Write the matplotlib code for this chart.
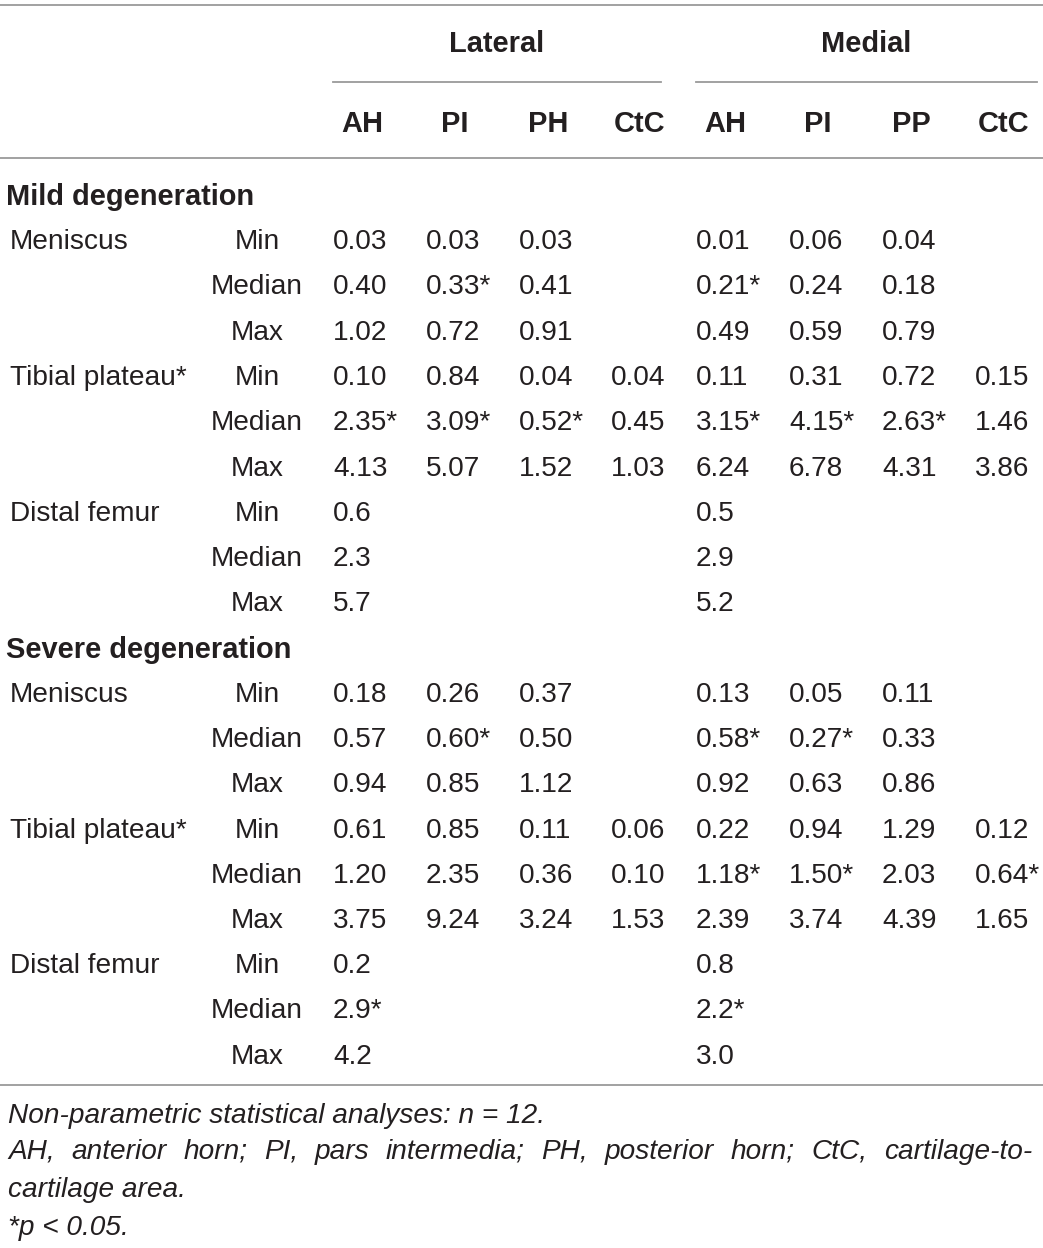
import matplotlib
matplotlib.use("Agg")
import matplotlib.pyplot as plt

plt.rcParams['font.family'] = ['Liberation Sans', 'DejaVu Sans']

# ---- data ----
sides = ["Lateral", "Medial"]
lateral_cols = ["AH", "PI", "PH", "CtC"]
medial_cols = ["AH", "PI", "PP", "CtC"]
sections = ["Mild degeneration", "Severe degeneration"]
tissues = ["Meniscus", "Tibial plateau*", "Distal femur"]
stats = ["Min", "Median", "Max"]

# each row: 4 lateral values + 4 medial values ("" = empty cell)
mild_meniscus = [
    ["0.03", "0.03", "0.03", "", "0.01", "0.06", "0.04", ""],
    ["0.40", "0.33*", "0.41", "", "0.21*", "0.24", "0.18", ""],
    ["1.02", "0.72", "0.91", "", "0.49", "0.59", "0.79", ""],
]
mild_tibial = [
    ["0.10", "0.84", "0.04", "0.04", "0.11", "0.31", "0.72", "0.15"],
    ["2.35*", "3.09*", "0.52*", "0.45", "3.15*", "4.15*", "2.63*", "1.46"],
    ["4.13", "5.07", "1.52", "1.03", "6.24", "6.78", "4.31", "3.86"],
]
mild_femur = [
    ["0.6", "", "", "", "0.5", "", "", ""],
    ["2.3", "", "", "", "2.9", "", "", ""],
    ["5.7", "", "", "", "5.2", "", "", ""],
]
severe_meniscus = [
    ["0.18", "0.26", "0.37", "", "0.13", "0.05", "0.11", ""],
    ["0.57", "0.60*", "0.50", "", "0.58*", "0.27*", "0.33", ""],
    ["0.94", "0.85", "1.12", "", "0.92", "0.63", "0.86", ""],
]
severe_tibial = [
    ["0.61", "0.85", "0.11", "0.06", "0.22", "0.94", "1.29", "0.12"],
    ["1.20", "2.35", "0.36", "0.10", "1.18*", "1.50*", "2.03", "0.64*"],
    ["3.75", "9.24", "3.24", "1.53", "2.39", "3.74", "4.39", "1.65"],
]
severe_femur = [
    ["0.2", "", "", "", "0.8", "", "", ""],
    ["2.9*", "", "", "", "2.2*", "", "", ""],
    ["4.2", "", "", "", "3.0", "", "", ""],
]
footnote1 = "Non-parametric statistical analyses: n = 12."
footnote2 = ("AH, anterior horn; PI, pars intermedia; PH, posterior horn; CtC, cartilage-to-",
             "cartilage area.")
footnote3 = "*p < 0.05."

section_data = [
    [mild_meniscus, mild_tibial, mild_femur],
    [severe_meniscus, severe_tibial, severe_femur],
]

# ---- layout ----
W, H = 1043, 1248
fig = plt.figure(figsize=(W / 100, H / 100), dpi=100)
ax = fig.add_axes([0, 0, 1, 1])
ax.set_xlim(0, W)
ax.set_ylim(H, 0)
ax.axis('off')

TXT = '#231f20'
LINE = '#9a9a9a'
FS = 20.2
FSB = 20.9

col_left = [333, 426, 519, 611, 696, 789, 882, 975]
col_w = 58
stat_x = 257
side_centers = [497, 866]
side_lines = [(333, 661), (696, 1037)]

# rules
ax.plot([0, W], [5, 5], color=LINE, lw=1.3)
ax.plot([0, W], [158, 158], color=LINE, lw=1.3)
ax.plot([0, W], [1085, 1085], color=LINE, lw=1.3)
for (a, b) in side_lines:
    ax.plot([a, b], [82, 82], color=LINE, lw=1.3)

for name, cx in zip(sides, side_centers):
    ax.text(cx, 44, name, ha='center', va='center', fontsize=FSB, fontweight='bold', color=TXT)

for i, c in enumerate(lateral_cols + medial_cols):
    ax.text(col_left[i] + col_w / 2, 124, c, ha='center', va='center',
            fontsize=FSB, fontweight='bold', color=TXT)

y = 197.0
step = 45.25
for s, sec in enumerate(sections):
    ax.text(6, y, sec, ha='left', va='center', fontsize=FSB, fontweight='bold', color=TXT)
    y += step
    for t, tissue in enumerate(tissues):
        rows = section_data[s][t]
        for r, st in enumerate(stats):
            if r == 0:
                ax.text(10, y, tissue, ha='left', va='center', fontsize=FS, color=TXT)
            ax.text(stat_x, y, st, ha='center', va='center', fontsize=FS, color=TXT)
            for c, v in enumerate(rows[r]):
                if v:
                    ax.text(col_left[c], y, v, ha='left', va='center', fontsize=FS, color=TXT)
            y += step

# footnotes
fkw = dict(fontsize=FS, style='italic', color=TXT, va='center')
ax.text(8, 1116, footnote1, ha='left', **fkw)

# justified line
fig.canvas.draw()
renderer = fig.canvas.get_renderer()
words = footnote2[0].split(' ')
wtexts = [ax.text(0, 1152, w, ha='left', **fkw) for w in words]
inv = ax.transData.inverted()
widths = []
for tx in wtexts:
    bb = tx.get_window_extent(renderer)
    x0 = inv.transform((bb.x0, bb.y0))[0]
    x1 = inv.transform((bb.x1, bb.y0))[0]
    widths.append(x1 - x0)
left, right = 8, 1032
gap = (right - left - sum(widths)) / (len(words) - 1)
x = left
for tx, wdt in zip(wtexts, widths):
    tx.set_x(x)
    x += wdt + gap
ax.text(8, 1190, footnote2[1], ha='left', **fkw)
ax.text(8, 1228, footnote3, ha='left', **fkw)

fig.savefig('out.png', dpi=100, facecolor='white')
